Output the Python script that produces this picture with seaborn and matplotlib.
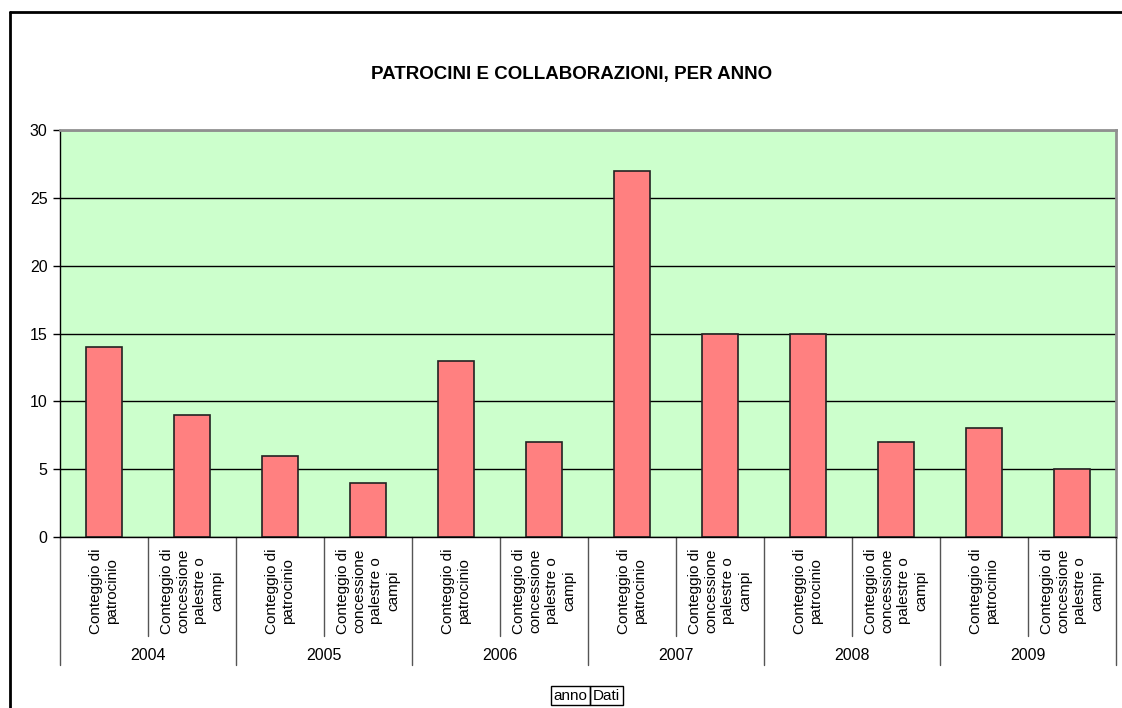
# Patrocini e collaborazioni per anno - bar chart with two level x axis
import matplotlib
matplotlib.use('Agg')
import matplotlib.pyplot as plt
import matplotlib.transforms as mtransforms
from matplotlib.lines import Line2D
from matplotlib.patches import Rectangle
import pandas as pd
import seaborn as sns

# Data:
anni = ['2004', '2005', '2006', '2007', '2008', '2009']
serie = ['Conteggio di\npatrocinio', 'Conteggio di\nconcessione\npalestre o\ncampi']
patrocinio = [14, 6, 13, 27, 15, 8]
concessione = [9, 4, 7, 15, 7, 5]

rows = []
for i, a in enumerate(anni):
    rows.append({'anno': a, 'serie': serie[0], 'valore': patrocinio[i]})
    rows.append({'anno': a, 'serie': serie[1], 'valore': concessione[i]})
df = pd.DataFrame(rows)
df['slot'] = range(len(df))

sns.set_style('white')
plt.rcParams['font.family'] = ['Liberation Sans', 'DejaVu Sans']
plt.rcParams['text.color'] = 'black'
plt.rcParams['ytick.color'] = 'black'

W, H = 1122, 708
fig = plt.figure(figsize=(W / 100, H / 100), dpi=100)
ax = fig.add_axes([60 / W, 1 - 537 / H, 1056 / W, 407 / H])
ax.set_facecolor('#CCFFCC')

sns.barplot(data=df, x='slot', y='valore', color='#FF8080', saturation=1,
            edgecolor='#222222', linewidth=1.2, width=0.41, ax=ax)

ax.set_xlim(-0.5, len(df) - 0.5)
ax.set_ylim(0, 30)
ax.set_yticks(range(0, 31, 5))
ax.yaxis.grid(True, color='black', linewidth=1)
ax.set_axisbelow(True)
ax.tick_params(axis='y', labelsize=11.5, labelcolor='black', length=5, width=1,
               direction='out', left=True, pad=4)
ax.tick_params(axis='x', bottom=False, labelbottom=False)
ax.set_xlabel('')
ax.set_ylabel('')
for s in ['left', 'bottom']:
    ax.spines[s].set_color('black')
    ax.spines[s].set_linewidth(1)
for s in ['top', 'right']:
    ax.spines[s].set_color('#909090')
    ax.spines[s].set_linewidth(2)

# two level category axis under the plot
trans = mtransforms.blended_transform_factory(ax.transData, fig.transFigure)
def fy(py):
    return 1 - py / H

for i, row in df.iterrows():
    ax.text(row['slot'], fy(548), row['serie'], transform=trans, rotation=90,
            ha='center', va='top', multialignment='center', fontsize=11,
            linespacing=1.25, color='black')
for k in range(len(df) + 1):
    x = k - 0.5
    if k % 2 == 0:
        ax.add_line(Line2D([x, x], [fy(537), fy(665)], transform=trans,
                           color='#555555', linewidth=1, clip_on=False))
    else:
        ax.add_line(Line2D([x, x], [fy(537), fy(636)], transform=trans,
                           color='#555555', linewidth=1, clip_on=False))
for j, a in enumerate(anni):
    ax.text(2 * j + 0.5, fy(656), a, transform=trans, ha='center', va='center',
            fontsize=11.5, color='black')

fig.text(572 / W, fy(75), 'PATROCINI E COLLABORAZIONI, PER ANNO',
         ha='center', va='center', fontsize=13.5, fontweight='bold', color='black')

# "anno" / "Dati" field buttons
for x0, x1, lab in [(551, 590, 'anno'), (590, 623, 'Dati')]:
    fig.add_artist(Rectangle((x0 / W, fy(705)), (x1 - x0) / W, 19 / H,
                             transform=fig.transFigure, fill=False,
                             edgecolor='black', linewidth=1))
    fig.text((x0 + x1) / 2 / W, fy(695.5), lab, ha='center', va='center',
             fontsize=11, color='black')

# chart area border (top and left)
fig.add_artist(Line2D([10 / W, 1], [fy(12), fy(12)], transform=fig.transFigure,
                      color='black', linewidth=2))
fig.add_artist(Line2D([10 / W, 10 / W], [fy(12), 0], transform=fig.transFigure,
                      color='black', linewidth=2))

fig.savefig('out.png', dpi=100)
